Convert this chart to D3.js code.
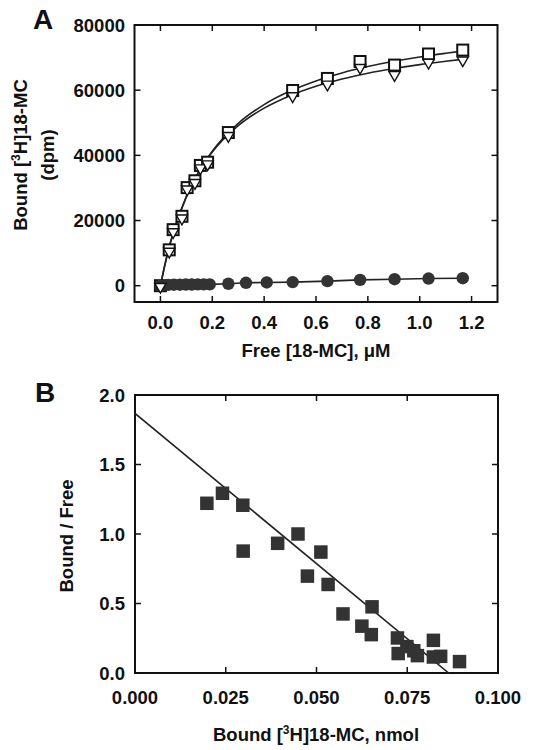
<!DOCTYPE html>
<html><head><meta charset="utf-8">
<script src="https://cdn.jsdelivr.net/npm/d3@7"></script>
<style>
html,body{margin:0;padding:0;background:#fff;}
text{font-family:"Liberation Sans",Arial,Helvetica,sans-serif;font-weight:bold;fill:#111;}
</style></head>
<body>
<svg id="c" width="555" height="750"></svg>
<script>
// ---------- Panel A data ----------
const freeSquare = [0, 0.034, 0.049, 0.083, 0.103, 0.133, 0.154, 0.182, 0.262, 0.510, 0.644, 0.770, 0.903, 1.034, 1.166];
const boundSquare = [0, 11000, 17200, 21300, 30100, 32200, 36900, 37900, 47000, 59900, 63600, 68800, 67700, 71100, 72300];
const freeTriangle = [0, 0.034, 0.049, 0.083, 0.103, 0.133, 0.154, 0.182, 0.262, 0.510, 0.644, 0.770, 0.903, 1.034, 1.166];
const boundTriangle = [0, 10800, 16800, 21000, 29900, 31900, 36400, 37600, 46300, 58500, 62100, 67200, 65000, 68800, 69500];
const freeCircle = [0, 0.030, 0.052, 0.075, 0.098, 0.121, 0.144, 0.167, 0.190, 0.262, 0.330, 0.410, 0.510, 0.644, 0.770, 0.903, 1.034, 1.166];
const boundCircle = [0, 250, 300, 300, 350, 350, 400, 400, 400, 600, 900, 1000, 1100, 1400, 1800, 2000, 2200, 2300];
// fitted saturation curves
const fitX = [0, 0.025, 0.05, 0.1, 0.15, 0.2, 0.3, 0.4, 0.5, 0.6, 0.7, 0.8, 0.9, 1.0, 1.1, 1.166];
const fitSquare = [0, 8960, 16210, 27230, 35210, 41260, 49820, 55580, 59720, 62840, 65280, 67240, 68850, 70190, 71320, 72010];
const fitTriangle = [0, 9200, 16530, 27460, 35230, 41030, 49120, 54490, 58320, 61190, 63410, 65190, 66640, 67850, 68870, 69470];
const xTicksA = [0, 0.2, 0.4, 0.6, 0.8, 1.0, 1.2];
const yTicksA = [0, 20000, 40000, 60000, 80000];

// ---------- Panel B data ----------
const boundB = [0.0198, 0.0241, 0.0297, 0.0298, 0.0393, 0.0449, 0.0512, 0.0475, 0.0532, 0.0573, 0.0653, 0.0625, 0.0651, 0.0723, 0.0725, 0.0749, 0.0768, 0.0778, 0.0822, 0.0822, 0.0842, 0.0894];
const ratioB = [1.221, 1.293, 1.207, 0.877, 0.933, 1.000, 0.870, 0.697, 0.637, 0.425, 0.476, 0.337, 0.276, 0.252, 0.140, 0.190, 0.160, 0.125, 0.235, 0.115, 0.120, 0.082];
const lineBx = [0, 0.0864];
const lineBy = [1.868, 0];
const xTicksB = [0, 0.025, 0.05, 0.075, 0.1];
const yTicksB = [0, 0.5, 1.0, 1.5, 2.0];

const svg = d3.select("#c");
const FS = 18.5;

function frame(g, x, y, xt, yt) {
  const [x0, x1] = x.range(), [y0, y1] = y.range();
  const L = 6;
  g.append("rect").attr("x", x0).attr("y", y1).attr("width", x1 - x0).attr("height", y0 - y1)
    .attr("fill", "none").attr("stroke", "#111").attr("stroke-width", 2);
  xt.forEach(t => {
    const px = x(t);
    g.append("line").attr("x1", px).attr("x2", px).attr("y1", y0).attr("y2", y0 - L).attr("stroke", "#111").attr("stroke-width", 1.5);
    g.append("line").attr("x1", px).attr("x2", px).attr("y1", y1).attr("y2", y1 + L).attr("stroke", "#111").attr("stroke-width", 1.5);
  });
  yt.forEach(t => {
    const py = y(t);
    g.append("line").attr("x1", x0).attr("x2", x0 + L).attr("y1", py).attr("y2", py).attr("stroke", "#111").attr("stroke-width", 1.5);
    g.append("line").attr("x1", x1).attr("x2", x1 - L).attr("y1", py).attr("y2", py).attr("stroke", "#111").attr("stroke-width", 1.5);
  });
}

// ---------- Panel A ----------
const xA = d3.scaleLinear().domain([-0.1, 1.3]).range([134.5, 497.5]);
const yA = d3.scaleLinear().domain([-5000, 80000]).range([302, 25]);
const gA = svg.append("g");
frame(gA, xA, yA, xTicksA, yTicksA);

gA.selectAll(".xtA").data(xTicksA).join("text").attr("x", d => xA(d)).attr("y", 329)
  .attr("text-anchor", "middle").attr("font-size", FS).text(d3.format(".1f"));
gA.selectAll(".ytA").data(yTicksA).join("text").attr("x", 125).attr("y", d => yA(d) + 6.5)
  .attr("text-anchor", "end").attr("font-size", FS).text(d => d);

gA.append("text").attr("x", 33).attr("y", 29).attr("font-size", 28).text("A");
gA.append("text").attr("x", 316).attr("y", 357).attr("text-anchor", "middle").attr("font-size", FS).text("Free [18-MC], μM");

const ylA = gA.append("text").attr("transform", "translate(27,155) rotate(-90)").attr("text-anchor", "middle").attr("font-size", FS);
ylA.append("tspan").text("Bound [");
ylA.append("tspan").attr("font-size", 12).attr("dy", -7).text("3");
ylA.append("tspan").attr("dy", 7).text("H]18-MC");
gA.append("text").attr("transform", "translate(54,155) rotate(-90)").attr("text-anchor", "middle").attr("font-size", FS).text("(dpm)");

const lineA = d3.line().x(d => xA(d[0])).y(d => yA(d[1])).curve(d3.curveMonotoneX);
gA.append("path").attr("d", lineA(d3.zip(fitX, fitSquare))).attr("fill", "none").attr("stroke", "#222").attr("stroke-width", 1.6);
gA.append("path").attr("d", lineA(d3.zip(fitX, fitTriangle))).attr("fill", "none").attr("stroke", "#222").attr("stroke-width", 1.6);
gA.append("path").attr("d", d3.line().x(d => xA(d[0])).y(d => yA(d[1]))(d3.zip(freeCircle, boundCircle)))
  .attr("fill", "none").attr("stroke", "#222").attr("stroke-width", 1.6);

const sq = 11;
gA.selectAll(".sq").data(d3.zip(freeSquare, boundSquare)).join("rect")
  .attr("x", d => xA(d[0]) - sq / 2).attr("y", d => yA(d[1]) - sq / 2).attr("width", sq).attr("height", sq)
  .attr("fill", "#fff").attr("stroke", "#111").attr("stroke-width", 2);
gA.selectAll(".ci").data(d3.zip(freeCircle, boundCircle)).join("circle")
  .attr("cx", d => xA(d[0])).attr("cy", d => yA(d[1])).attr("r", 6.2).attr("fill", "#333");
const tri = d3.symbol().type(d3.symbolTriangle).size(55);
gA.selectAll(".tr").data(d3.zip(freeTriangle, boundTriangle)).join("path")
  .attr("d", tri).attr("transform", d => `translate(${xA(d[0])},${yA(d[1]) + 1}) rotate(180)`)
  .attr("fill", "#fff").attr("stroke", "#111").attr("stroke-width", 1.4);

// ---------- Panel B ----------
const xB = d3.scaleLinear().domain([0, 0.1]).range([135, 498]);
const yB = d3.scaleLinear().domain([0, 2]).range([673, 395]);
const gB = svg.append("g");
frame(gB, xB, yB, xTicksB, yTicksB);

gB.selectAll(".xtB").data(xTicksB).join("text").attr("x", d => xB(d)).attr("y", 704)
  .attr("text-anchor", "middle").attr("font-size", FS).text(d3.format(".3f"));
gB.selectAll(".ytB").data(yTicksB).join("text").attr("x", 125).attr("y", d => yB(d) + 6.5)
  .attr("text-anchor", "end").attr("font-size", FS).text(d3.format(".1f"));

gB.append("text").attr("x", 35).attr("y", 402).attr("font-size", 28).text("B");
const xlB = gB.append("text").attr("x", 316).attr("y", 741).attr("text-anchor", "middle").attr("font-size", FS);
xlB.append("tspan").text("Bound [");
xlB.append("tspan").attr("font-size", 12).attr("dy", -7).text("3");
xlB.append("tspan").attr("dy", 7).text("H]18-MC, nmol");
gB.append("text").attr("transform", "translate(73,536) rotate(-90)").attr("text-anchor", "middle").attr("font-size", FS).text("Bound / Free");

gB.append("defs").append("clipPath").attr("id", "clipB").append("rect")
  .attr("x", 135).attr("y", 395).attr("width", 363).attr("height", 278);
gB.append("path").attr("clip-path", "url(#clipB)")
  .attr("d", d3.line().x(d => xB(d[0])).y(d => yB(d[1]))(d3.zip(lineBx, lineBy)))
  .attr("fill", "none").attr("stroke", "#222").attr("stroke-width", 1.6);

const sb = 13.5;
gB.selectAll(".sb").data(d3.zip(boundB, ratioB)).join("rect")
  .attr("x", d => xB(d[0]) - sb / 2).attr("y", d => yB(d[1]) - sb / 2).attr("width", sb).attr("height", sb)
  .attr("fill", "#333");
</script>
</body></html>
